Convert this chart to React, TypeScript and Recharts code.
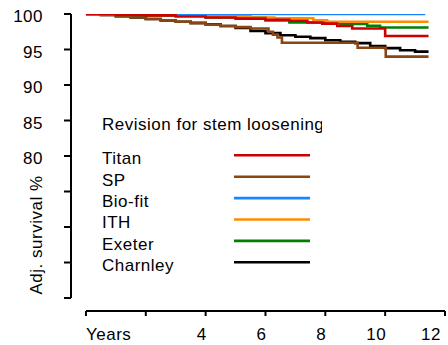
import { LineChart, Line, XAxis, YAxis, ReferenceLine } from 'recharts'

// survival (%), [years, value]
const TITAN = [
  [0, 100], [1, 99.9], [2, 99.8], [3, 99.65], [4, 99.5], [5, 99.35], [6, 99.2],
  [6.8, 99.05], [7.4, 98.8], [7.9, 98.65], [8.4, 98.3], [8.9, 97.95], [10.0, 96.9], [11.45, 96.9],
]
const SP = [
  [0, 100], [0.5, 99.85], [1, 99.7], [1.5, 99.5], [2, 99.3], [2.5, 99.1], [3, 98.9], [3.5, 98.7],
  [4, 98.5], [4.5, 98.3], [5, 98.15], [5.5, 97.95], [6.1, 97.5], [6.25, 97.1], [6.4, 96.7],
  [6.55, 95.95], [9.08, 95.25], [10.02, 94.0], [11.45, 94.0],
]
const BIOFIT = [[0, 100], [11.34, 100]]
const ITH = [
  [0, 100], [2, 99.9], [4, 99.7], [5.5, 99.5], [6.3, 99.4], [7.6, 99.1], [8.06, 98.9], [11.45, 98.9],
]
const EXETER = [
  [0, 100], [2, 99.8], [4, 99.5], [6, 99.1], [6.8, 98.8], [8.5, 98.6], [9.4, 98.35], [9.83, 98.1], [11.45, 98.1],
]
const CHARNLEY = [
  [0, 100], [0.5, 99.85], [1, 99.7], [1.5, 99.5], [2, 99.3], [2.5, 99.1], [3, 98.9], [3.5, 98.75],
  [4, 98.55], [4.5, 98.3], [5, 98.05], [5.5, 97.6], [6, 97.3], [6.5, 97.0], [7, 96.8], [7.5, 96.6],
  [8, 96.3], [8.5, 96.1], [9, 95.9], [9.5, 95.5], [10, 95.2], [10.5, 94.9], [11, 94.7], [11.45, 94.7],
]

const LEGEND_NAMES = ['Titan', 'SP', 'Bio-fit', 'ITH', 'Exeter', 'Charnley']
const LEGEND_COLORS = ['#cc0000', '#8b4513', '#1a85ff', '#ff8c00', '#008000', '#000000']
const LEGEND_DATA = [TITAN, SP, BIOFIT, ITH, EXETER, CHARNLEY]

const Y_TICKS = [60, 65, 70, 75, 80, 85, 90, 95, 100]
const Y_LABELED = [80, 85, 90, 95, 100]
const X_TICKS = [0, 2, 4, 6, 8, 10, 12]
const Y_MIN = 58.17

const FONT = '"Liberation Sans", Arial, sans-serif'
const FS = 17

// drawing order: black underneath, red on top
const DRAW_ORDER = [5, 1, 4, 3, 2, 0]

function YTick({ x, y, payload }: any) {
  if (!Y_LABELED.includes(payload.value)) return null
  return (
    <text x={x} y={y} dy={8.4} textAnchor="end" fontSize={FS} fontFamily={FONT} fill="#000" letterSpacing={0.5}>
      {payload.value}
    </text>
  )
}

function XTick({ x, y, payload }: any) {
  const v = payload.value
  if (v === 2) return null
  if (v === 0)
    return (
      <text x={x} y={y} dy={22} textAnchor="start" fontSize={FS} fontFamily={FONT} fill="#000" letterSpacing={0.5}>
        Years
      </text>
    )
  return (
    <text x={x + 1} y={y} dy={22} textAnchor="end" fontSize={FS} fontFamily={FONT} fill="#000" letterSpacing={0.5}>
      {v}
    </text>
  )
}

export default function App() {
  return (
    <div style={{ position: 'absolute', left: 0, top: 0, width: 448, height: 345, background: '#fff' }}>
      <LineChart width={448} height={345} margin={{ top: 14, right: 3, bottom: 4, left: 11 }}>
        <XAxis
          type="number"
          dataKey="t"
          domain={[-0.5, 12]}
          ticks={X_TICKS}
          allowDataOverflow
          axisLine={false}
          tickLine={{ stroke: '#000', strokeWidth: 2 }}
          tickSize={5}
          height={30}
          tick={<XTick />}
        />
        <YAxis
          type="number"
          domain={[Y_MIN, 100]}
          ticks={Y_TICKS}
          allowDataOverflow
          axisLine={false}
          tickLine={{ stroke: '#000', strokeWidth: 2 }}
          tickSize={7}
          tickMargin={21}
          width={60}
          tick={<YTick />}
        />
        <ReferenceLine
          segment={[{ x: -0.5, y: 60 }, { x: -0.5, y: 100 }]}
          stroke="#000"
          strokeWidth={2}
          ifOverflow="visible"
        />
        <ReferenceLine
          segment={[{ x: 0, y: Y_MIN }, { x: 12, y: Y_MIN }]}
          stroke="#000"
          strokeWidth={2}
          ifOverflow="visible"
        />
        {DRAW_ORDER.map((i) => (
          <Line
            key={LEGEND_NAMES[i]}
            data={LEGEND_DATA[i].map(([t, v]) => ({ t, v }))}
            dataKey="v"
            type="stepAfter"
            stroke={LEGEND_COLORS[i]}
            strokeWidth={2.6}
            dot={false}
            isAnimationActive={false}
          />
        ))}
      </LineChart>

      <svg width={448} height={345} style={{ position: 'absolute', left: 0, top: 0, pointerEvents: 'none' }}>
        <defs>
          <clipPath id="hdrClip">
            <rect x={0} y={0} width={322} height={345} />
          </clipPath>
        </defs>
        <text
          x={41.5}
          y={235}
          transform="rotate(-90 41.5 235)"
          textAnchor="middle"
          fontSize={FS}
          fontFamily={FONT}
          letterSpacing={0.5}
        >
          Adj. survival %
        </text>
        <text x={102} y={129.5} fontSize={FS} fontFamily={FONT} letterSpacing={0.5} clipPath="url(#hdrClip)">
          Revision for stem loosening
        </text>
        {LEGEND_NAMES.map((name, i) => (
          <g key={name}>
            <text x={102} y={164.3 + i * 21.3} fontSize={FS} fontFamily={FONT} letterSpacing={0.5}>
              {name}
            </text>
            <line
              x1={234}
              x2={310}
              y1={155.3 + i * 21.4}
              y2={155.3 + i * 21.4}
              stroke={LEGEND_COLORS[i]}
              strokeWidth={2.6}
            />
          </g>
        ))}
      </svg>
    </div>
  )
}
